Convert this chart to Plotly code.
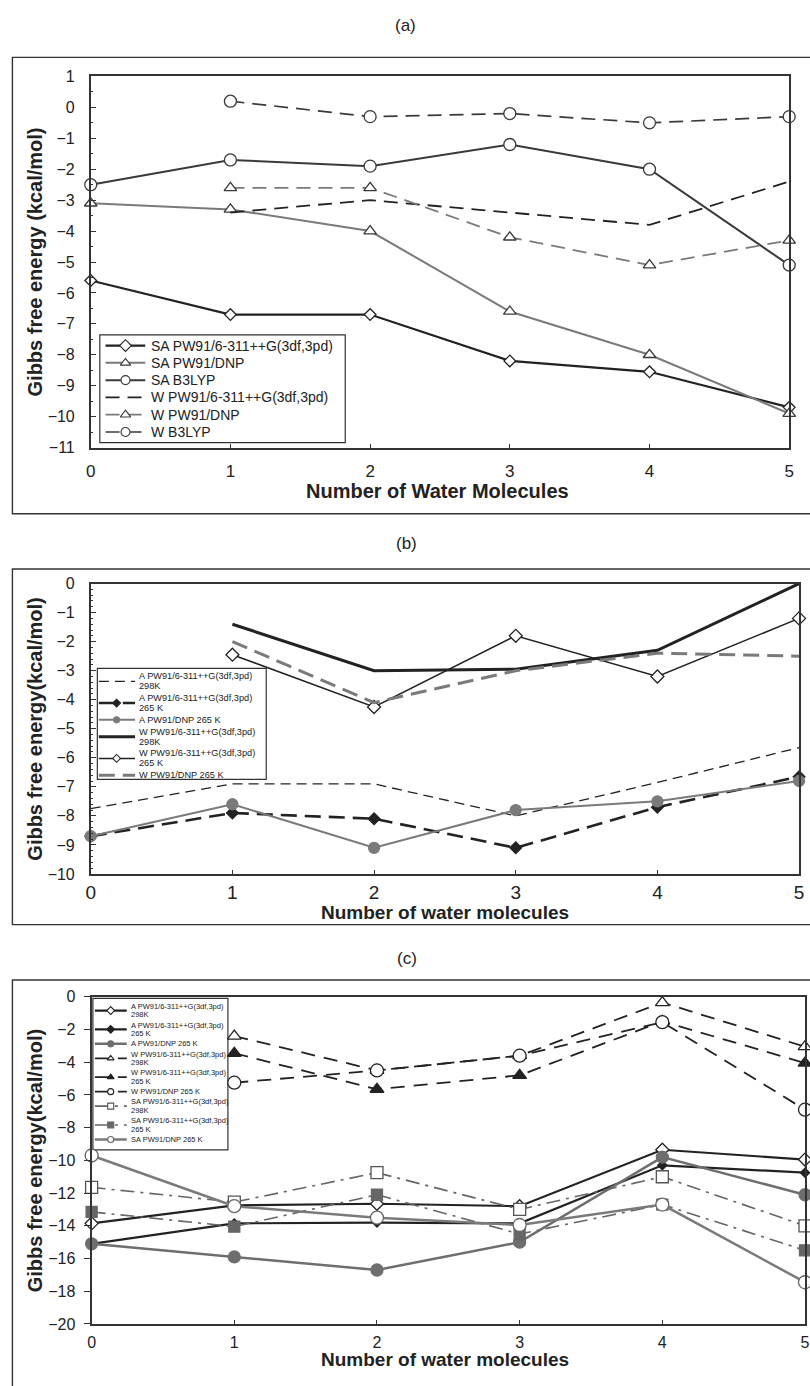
import plotly.graph_objects as go

W, H = 810, 1386

# ------------------------------------------------------------------ data
n_all = [0, 1, 2, 3, 4, 5]
n_w = [1, 2, 3, 4, 5]

# panel (a)
a_sa_6311 = [-5.6, -6.7, -6.7, -8.2, -8.55, -9.7]
a_sa_dnp = [-3.1, -3.3, -4.0, -6.6, -8.0, -9.9]
a_sa_b3lyp = [-2.5, -1.7, -1.9, -1.2, -2.0, -5.1]
a_w_6311 = [-3.4, -3.0, -3.4, -3.8, -2.4]
a_w_dnp = [-2.6, -2.6, -4.2, -5.1, -4.3]
a_w_b3lyp = [0.2, -0.3, -0.2, -0.5, -0.3]

# panel (b)
b_a_6311_298 = [-7.75, -6.9, -6.9, -8.0, -6.85, -5.65]
b_a_6311_265 = [-8.7, -7.9, -8.1, -9.1, -7.7, -6.65]
b_a_dnp_265 = [-8.7, -7.6, -9.1, -7.8, -7.5, -6.8]
b_w_6311_298 = [-1.4, -3.0, -2.95, -2.3, 0.0]
b_w_6311_265 = [-2.45, -4.25, -1.8, -3.2, -1.2]
b_w_dnp_265 = [-2.0, -4.1, -3.0, -2.4, -2.5]

# panel (c)
c_a_6311_298 = [-13.85, -12.75, -12.65, -12.8, -9.35, -9.95]
c_a_6311_265 = [-15.1, -13.85, -13.8, -13.85, -10.3, -10.75]
c_a_dnp_265 = [-15.1, -15.9, -16.7, -15.0, -9.8, -12.1]
c_w_6311_298 = [-2.4, -4.5, -3.6, -0.35, -3.05]
c_w_6311_265 = [-3.45, -5.65, -4.8, -1.5, -4.05]
c_w_dnp_265 = [-5.25, -4.5, -3.6, -1.55, -6.9]
c_sa_6311_298 = [-11.65, -12.55, -10.75, -13.0, -11.0, -14.0]
c_sa_6311_265 = [-13.15, -14.05, -12.1, -14.5, -12.7, -15.5]
c_sa_dnp_265 = [-9.7, -12.8, -13.5, -13.95, -12.7, -17.45]

a_labels = ["SA PW91/6-311++G(3df,3pd)", "SA PW91/DNP", "SA B3LYP",
            "W PW91/6-311++G(3df,3pd)", "W PW91/DNP", "W B3LYP"]
b_labels = ["A PW91/6-311++G(3df,3pd)<br>298K", "A PW91/6-311++G(3df,3pd)<br>265 K",
            "A PW91/DNP 265 K", "W PW91/6-311++G(3df,3pd)<br>298K",
            "W PW91/6-311++G(3df,3pd)<br>265 K", "W PW91/DNP 265 K"]
c_labels = ["A PW91/6-311++G(3df,3pd)<br>298K", "A PW91/6-311++G(3df,3pd)<br>265 K",
            "A PW91/DNP 265 K", "W PW91/6-311++G(3df,3pd)<br>298K",
            "W PW91/6-311++G(3df,3pd)<br>265 K", "W PW91/DNP 265 K",
            "SA PW91/6-311++G(3df,3pd)<br>298K", "SA PW91/6-311++G(3df,3pd)<br>265 K",
            "SA PW91/DNP 265 K"]

# ------------------------------------------------------------------ styles
BLK = "#222222"
DK = "#3a3a3a"
GR = "#7a7a7a"
FONT = "Liberation Sans, Arial, sans-serif"


def st(color, width, dash="solid", symbol=None, fill=None, size=10, mline=None):
    return dict(color=color, width=width, dash=dash, symbol=symbol,
                fill=fill, size=size, mline=mline or color)


a_styles = [
    st(BLK, 2.2, "solid", "diamond", "white", 9, BLK),
    st(GR, 2.0, "solid", "triangle-up", "white", 11, DK),
    st(DK, 2.0, "solid", "circle", "white", 12, DK),
    st(BLK, 1.8, "14px,8px"),
    st(GR, 1.8, "14px,8px", "triangle-up", "white", 11, DK),
    st(DK, 1.7, "14px,8px", "circle", "white", 12, DK),
]
b_styles = [
    st(BLK, 1.3, "10px,6px"),
    st(BLK, 2.6, "16px,8px", "diamond", BLK, 9),
    st(GR, 2.0, "solid", "circle", GR, 11),
    st(BLK, 3.0, "solid"),
    st(BLK, 1.5, "solid", "diamond", "white", 10, BLK),
    st(GR, 3.0, "16px,8px"),
]
c_styles = [
    st(BLK, 2.2, "solid", "diamond", "white", 10, BLK),
    st(BLK, 2.2, "solid", "diamond", BLK, 7),
    st("#6e6e6e", 2.5, "solid", "circle", "#6e6e6e", 12),
    st(BLK, 1.8, "14px,9px", "triangle-up", "white", 12, BLK),
    st(BLK, 1.8, "14px,9px", "triangle-up", BLK, 12),
    st(BLK, 1.8, "14px,9px", "circle", "white", 13, BLK),
    st("#666666", 1.6, "14px,6px,3px,6px", "square", "white", 12, "#555555"),
    st("#666666", 1.6, "14px,6px,3px,6px", "square", "#666666", 11),
    st(GR, 2.5, "solid", "circle", "white", 13, "#666666"),
]

a_series = [(n_all, a_sa_6311), (n_all, a_sa_dnp), (n_all, a_sa_b3lyp),
            (n_w, a_w_6311), (n_w, a_w_dnp), (n_w, a_w_b3lyp)]
b_series = [(n_all, b_a_6311_298), (n_all, b_a_6311_265), (n_all, b_a_dnp_265),
            (n_w, b_w_6311_298), (n_w, b_w_6311_265), (n_w, b_w_dnp_265)]
c_series = [(n_all, c_a_6311_298), (n_all, c_a_6311_265), (n_all, c_a_dnp_265),
            (n_w, c_w_6311_298), (n_w, c_w_6311_265), (n_w, c_w_dnp_265),
            (n_all, c_sa_6311_298), (n_all, c_sa_6311_265), (n_all, c_sa_dnp_265)]

fig = go.Figure()


def add_series(series, labels, styles, xa, ya):
    for (xs, ys), lab, s in zip(series, labels, styles):
        kw = dict(x=xs, y=ys, name=lab.replace("<br>", " "), xaxis=xa, yaxis=ya,
                  showlegend=False, cliponaxis=False, hoverinfo="skip",
                  line=dict(color=s["color"], width=s["width"], dash=s["dash"]))
        if s["symbol"]:
            kw["mode"] = "lines+markers"
            kw["marker"] = dict(symbol=s["symbol"], size=s["size"], color=s["fill"],
                                line=dict(color=s["mline"], width=1.3))
        else:
            kw["mode"] = "lines"
        fig.add_trace(go.Scatter(**kw))


add_series(a_series, a_labels, a_styles, "x", "y")
add_series(b_series, b_labels, b_styles, "x2", "y2")
add_series(c_series, c_labels, c_styles, "x3", "y3")

shapes = []
annotations = []


def prect(x0, y0, x1, y1, width=1.4, fill=None):
    shapes.append(dict(type="rect", xref="paper", yref="paper", layer="below",
                       x0=x0 / W, x1=x1 / W, y0=1 - y1 / H, y1=1 - y0 / H,
                       line=dict(color="#333333", width=width),
                       fillcolor=fill if fill else "rgba(0,0,0,0)"))


# legends drawn on an invisible pixel-scaled overlay axis
def add_legend(labels, styles, box, xl0, xl1, xm, xt, y0, lh, gap, fsize, msize):
    prect(*box, width=1.2, fill="white")
    cur = y0
    for lab, s in zip(labels, styles):
        lines = lab.split("<br>")
        yc = cur + len(lines) * lh / 2
        fig.add_trace(go.Scatter(x=[xl0, xl1], y=[yc, yc], mode="lines", xaxis="x4", yaxis="y4",
                                 showlegend=False, hoverinfo="skip",
                                 line=dict(color=s["color"], width=s["width"], dash=s["dash"])))
        if s["symbol"]:
            fig.add_trace(go.Scatter(x=[xm], y=[yc], mode="markers", xaxis="x4", yaxis="y4",
                                     showlegend=False, hoverinfo="skip", cliponaxis=False,
                                     marker=dict(symbol=s["symbol"], size=msize, color=s["fill"],
                                                 line=dict(color=s["mline"], width=1.1))))
        for i, t in enumerate(lines):
            annotations.append(dict(x=xt, y=cur + (i + 0.5) * lh, xref="x4", yref="y4", text=t,
                                    showarrow=False, xanchor="left", yanchor="middle",
                                    font=dict(family=FONT, size=fsize, color="#222")))
        cur += len(lines) * lh + gap


add_legend(a_labels, a_styles, (96, 331, 344.5, 440), 101.8, 142, 122, 146, 333, 17.5, 0, 14, 9)
add_legend(b_labels, b_styles, (93.5, 668.5, 264.5, 781), 95, 131.7, 113, 133.3, 671.7, 10, 2, 9.2, 6)
add_legend(c_labels, c_styles, (89, 1002.7, 225.7, 1156), 91, 123.3, 107, 125.7, 1006.4, 8.6, 1.8, 7.5, 6)

# outer frames
prect(7.5, 50, 830, 512)
prect(7.5, 568, 830, 928)
prect(7.5, 984, 830, 1420)


# panel labels and axis titles
def ann(text, x, y, size, bold=False, angle=0):
    annotations.append(dict(x=x / W, y=1 - y / H, xref="paper", yref="paper", text=text,
                            showarrow=False, xanchor="center", yanchor="middle", textangle=angle,
                            font=dict(family=FONT, size=size, color="#222",
                                      weight="bold" if bold else "normal")))


ann("(a)", 405, 18, 17)
ann("(b)", 407, 542, 17)
ann("(c)", 407, 962, 17)
ann("Number of Water Molecules", 438, 489, 20, True)
ann("Number of water molecules", 445, 916, 19, True)
ann("Number of water molecules", 445, 1368, 19, True)
ann("Gibbs free energy (kcal/mol)", 30, 257, 20, True, -90)
ann("Gibbs free energy(kcal/mol)", 30, 730, 20, True, -90)
ann("Gibbs free energy(kcal/mol)", 30, 1167, 20, True, -90)


def xax(x0, x1, anchor, fsize, standoff, lw=1.5):
    return dict(domain=[x0 / W, x1 / W], range=[0, 5], anchor=anchor, dtick=1, tick0=0,
                showgrid=False, zeroline=False, showline=True, mirror=True,
                linecolor="#333", linewidth=lw, ticks="inside", ticklen=4, tickcolor="#333",
                tickfont=dict(family=FONT, size=fsize, color="#222"), ticklabelstandoff=standoff)


def yax(y0, y1, rng, dtick, anchor, ticks, minor=None, lw=1.5):
    d = dict(domain=[1 - y1 / H, 1 - y0 / H], range=rng, anchor=anchor, dtick=dtick, tick0=0,
             showgrid=False, zeroline=False, showline=True, mirror=True,
             linecolor="#333", linewidth=lw, ticks=ticks, ticklen=6, tickcolor="#333",
             tickfont=dict(family=FONT, size=16, color="#222"),
             ticklabelstandoff=11 if ticks == "inside" else 5)
    if minor:
        d["minor"] = dict(dtick=minor, tick0=0, ticks=ticks, ticklen=3, tickcolor="#333")
    return d


fig.update_layout(
    width=W, height=H, margin=dict(l=0, r=0, t=0, b=0),
    paper_bgcolor="white", plot_bgcolor="rgba(0,0,0,0)",
    showlegend=False,
    xaxis=xax(86.8, 794, "y", 17, 7),
    yaxis=yax(69.3, 445, [-11, 1], 1, "x", "inside", 0.5),
    xaxis2=xax(86.8, 804, "y2", 19, 1),
    yaxis2=yax(582.7, 876.7, [-10, 0], 1, "x2", "inside", 0.2),
    xaxis3=xax(87.7, 810, "y3", 16, 3, 2),
    yaxis3=yax(1001.1, 1332.3, [-20, 0], 2, "x3", "outside", None, 2),
    xaxis4=dict(domain=[0, 1], range=[0, W], anchor="y4", visible=False, fixedrange=True),
    yaxis4=dict(domain=[0, 1], range=[H, 0], anchor="x4", visible=False, fixedrange=True),
    shapes=shapes, annotations=annotations,
)

fig.write_html("out.html", config={"displayModeBar": False},
               post_script="document.body.style.margin='0';document.body.style.overflow='hidden';")
